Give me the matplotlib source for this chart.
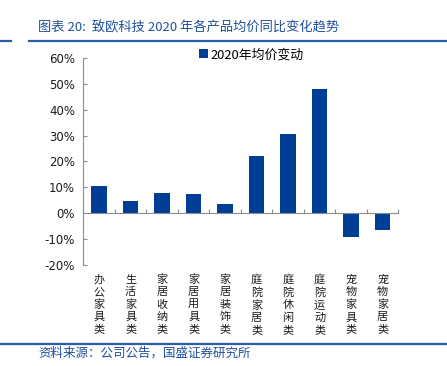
import matplotlib
matplotlib.use('Agg')
import matplotlib.pyplot as plt
import numpy as np

# ── Palette ───────────────────────────────────────────────────────────────
C_BAR   = '#003E96'
C_TITLE = '#1F4F9E'
C_RULE  = '#2A5CAA'
C_AXIS  = '#8C8C8C'
C_TEXT  = '#1a1a1a'

plt.rcParams['font.family'] = ['Noto Sans CJK SC', 'DejaVu Sans']

# ── Data ──────────────────────────────────────────────────────────────────
categories = ['办公家具类', '生活家具类', '家居收纳类', '家居用具类', '家居装饰类',
              '庭院家居类', '庭院休闲类', '庭院运动类', '宠物家具类', '宠物家居类']
price_chg = [10.7, 4.9, 8.0, 7.3, 3.6, 22.2, 30.5, 47.9, -9.3, -6.6]   # %
yticks = [-20, -10, 0, 10, 20, 30, 40, 50, 60]

title = '图表 20:  致欧科技 2020 年各产品均价同比变化趋势'
source = '资料来源：公司公告，国盛证券研究所'
series_name = '2020年均价变动'

fig = plt.figure(figsize=(4.47, 3.66), dpi=100)
ax = fig.add_axes([0.1864, 0.276, 0.7047, 0.5656])

x = np.arange(len(categories))
ax.bar(x, price_chg, 0.5, color=C_BAR, label=series_name, zorder=3)

ax.set_xlim(-0.5, len(categories) - 0.5)
ax.set_ylim(-20, 60)
ax.set_yticks(yticks)
ax.set_yticklabels([f'{v}%' for v in yticks], fontsize=8.5, family='DejaVu Sans',
                   color=C_TEXT)
ax.tick_params(axis='y', direction='in', length=3, width=0.8, color=C_AXIS, pad=6)

for s in ['top', 'right']:
    ax.spines[s].set_visible(False)
ax.spines['left'].set_color(C_AXIS)
ax.spines['left'].set_linewidth(0.8)
ax.spines['bottom'].set_position(('data', 0))
ax.spines['bottom'].set_color(C_AXIS)
ax.spines['bottom'].set_linewidth(0.8)
ax.spines['bottom'].set_zorder(4)

# category boundary ticks on the zero line, labels drawn below the plot
ax.set_xticks(np.arange(len(categories) + 1) - 0.5)
ax.set_xticklabels([])
ax.tick_params(axis='x', direction='in', length=3, width=0.8, color=C_AXIS)
for xi, lab in zip(x, categories):
    ax.text(xi, -0.045, '\n'.join(lab), transform=ax.get_xaxis_transform(),
            ha='center', va='top', fontsize=8, linespacing=1.27, color=C_TEXT)

ax.legend(loc='center left', bbox_to_anchor=(0.445, 0.85),
          bbox_transform=fig.transFigure, frameon=False, fontsize=9.3,
          handlelength=0.7, handleheight=0.7, handletextpad=0.2,
          borderpad=0, borderaxespad=0)

# ── Header / footer ───────────────────────────────────────────────────────
fig.text(0.085, 0.923, title, fontsize=9.5, color=C_TITLE, va='center', ha='left',
         style='italic')
fig.add_artist(plt.Line2D([0, 0.025], [0.888, 0.888], color=C_RULE, lw=1.6))
fig.add_artist(plt.Line2D([0.065, 1], [0.888, 0.888], color=C_RULE, lw=1.6))
fig.add_artist(plt.Line2D([0, 1], [0.060, 0.060], color=C_RULE, lw=1.6))
fig.text(0.085, 0.036, source, fontsize=9, color=C_TITLE, va='center', ha='left',
         style='italic')

fig.savefig('out.png', dpi=100)
